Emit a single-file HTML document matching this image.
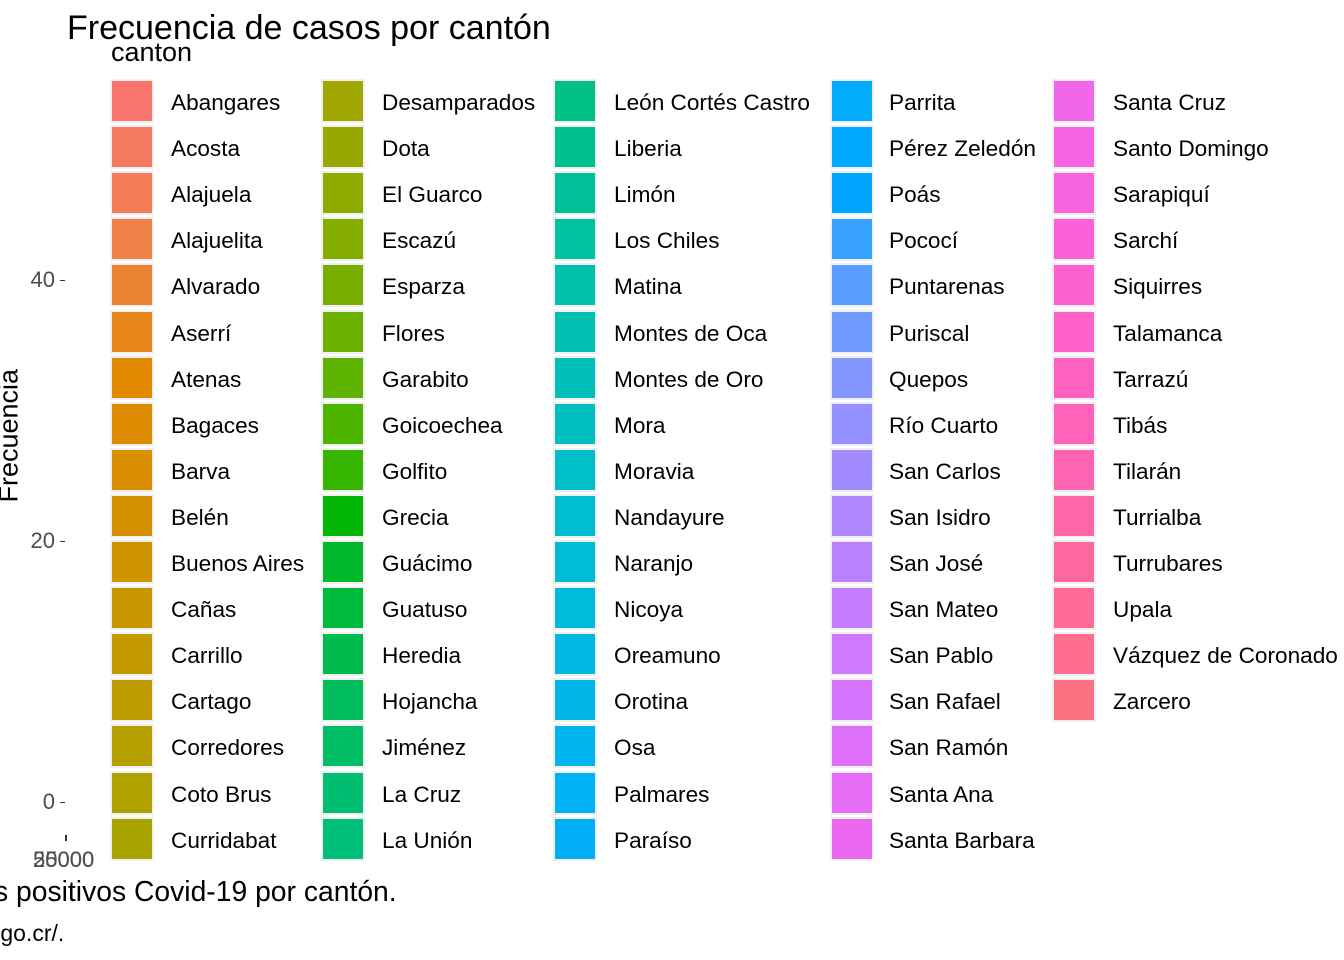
<!DOCTYPE html>
<html><head><meta charset="utf-8">
<style>
body{margin:0;width:1344px;height:960px;background:#fff;overflow:hidden;position:relative;font-family:"Liberation Sans",Arial,sans-serif;}
.t{position:absolute;white-space:nowrap;color:#000;}
.key{position:absolute;width:40px;height:40px;border:2px solid #f0f0f0;}
.lab{position:absolute;font-size:22.6px;white-space:nowrap;line-height:22px;}
.tick{position:absolute;font-size:22px;color:#4d4d4d;}
.tm{position:absolute;height:1px;width:5px;background:#333;}
</style></head><body>
<div class="t" style="left:67px;top:9px;font-size:34px;">Frecuencia de casos por cantón</div>
<div class="t" style="left:111px;top:37px;font-size:27px;">canton</div>
<div class="t" style="left:-46px;top:432px;font-size:27px;transform:rotate(-90deg);transform-origin:center;width:110px;text-align:center;">Frecuencia</div>
<div class="tick" style="left:33px;top:847px;">25000</div>
<div class="tick" style="left:33px;top:847px;">50000</div>
<div style="position:absolute;left:65px;top:835px;width:2px;height:6px;background:#333;"></div>
<div class="t" style="left:-6px;top:875px;font-size:28.3px;">s positivos Covid-19 por cantón.</div>
<div class="t" style="left:-6px;top:920px;font-size:23px;">.go.cr/.</div>
<div id="axis"></div>
<div id="legend"></div>
<script>
const yTicks=[0,20,40];
const yTickLabels=["0","20","40"];
const cantones=["Abangares","Acosta","Alajuela","Alajuelita","Alvarado","Aserrí","Atenas","Bagaces","Barva","Belén","Buenos Aires","Cañas","Carrillo","Cartago","Corredores","Coto Brus","Curridabat","Desamparados","Dota","El Guarco","Escazú","Esparza","Flores","Garabito","Goicoechea","Golfito","Grecia","Guácimo","Guatuso","Heredia","Hojancha","Jiménez","La Cruz","La Unión","León Cortés Castro","Liberia","Limón","Los Chiles","Matina","Montes de Oca","Montes de Oro","Mora","Moravia","Nandayure","Naranjo","Nicoya","Oreamuno","Orotina","Osa","Palmares","Paraíso","Parrita","Pérez Zeledón","Poás","Pococí","Puntarenas","Puriscal","Quepos","Río Cuarto","San Carlos","San Isidro","San José","San Mateo","San Pablo","San Rafael","San Ramón","Santa Ana","Santa Barbara","Santa Cruz","Santo Domingo","Sarapiquí","Sarchí","Siquirres","Talamanca","Tarrazú","Tibás","Tilarán","Turrialba","Turrubares","Upala","Vázquez de Coronado","Zarcero"];
function y(v){return 802-v*13.05;}
const ax=document.getElementById('axis');
yTicks.forEach((v,i)=>{
 const l=document.createElement('div');l.className='tick';
 
 
 l.textContent=yTickLabels[i];l.style.right=(1344-55)+'px';l.style.top=(y(v)-13)+'px';ax.appendChild(l);
 const m=document.createElement('div');m.className='tm';
 
 
 m.style.left='60px';m.style.top=y(v)+'px';ax.appendChild(m);
});
function hcl(h){
 const L=65,C=100,hr=h*Math.PI/180,u=C*Math.cos(hr),v=C*Math.sin(hr);
 const Xn=0.95047,Yn=1,Zn=1.08883,d=Xn+15*Yn+3*Zn,u0=4*Xn/d,v0=9*Yn/d;
 const Y=Math.pow((L+16)/116,3),up=u/(13*L)+u0,vp=v/(13*L)+v0;
 const X=Y*9*up/(4*vp),Z=Y*(12-3*up-20*vp)/(4*vp);
 let r=3.2406*X-1.5372*Y-0.4986*Z,g=-0.9689*X+1.8758*Y+0.0415*Z,b=0.0557*X-0.2040*Y+1.0570*Z;
 const gm=c=>{c=c<=0.0031308?12.92*c:1.055*Math.pow(c,1/2.4)-0.055;return Math.round(255*Math.max(0,Math.min(1,c)));};
 return 'rgb('+gm(r)+','+gm(g)+','+gm(b)+')';
}
const colX=[110,321,553,830,1052];
const lg=document.getElementById('legend');
const n=cantones.length;
cantones.forEach((c,i)=>{
 const col=Math.floor(i/17),row=i%17;
 const top=79+row*46.1;
 const k=document.createElement('div');k.className='key';
 
 
 k.style.left=colX[col]+'px';k.style.top=top+'px';
 k.style.background=hcl(15+360*i/(n+1));lg.appendChild(k);
 const t=document.createElement('div');t.className='lab';
 
 
 t.textContent=c;t.style.left=(colX[col]+(col==3?59:61))+'px';t.style.top=(top+13)+'px';lg.appendChild(t);
});
</script>
</body></html>
